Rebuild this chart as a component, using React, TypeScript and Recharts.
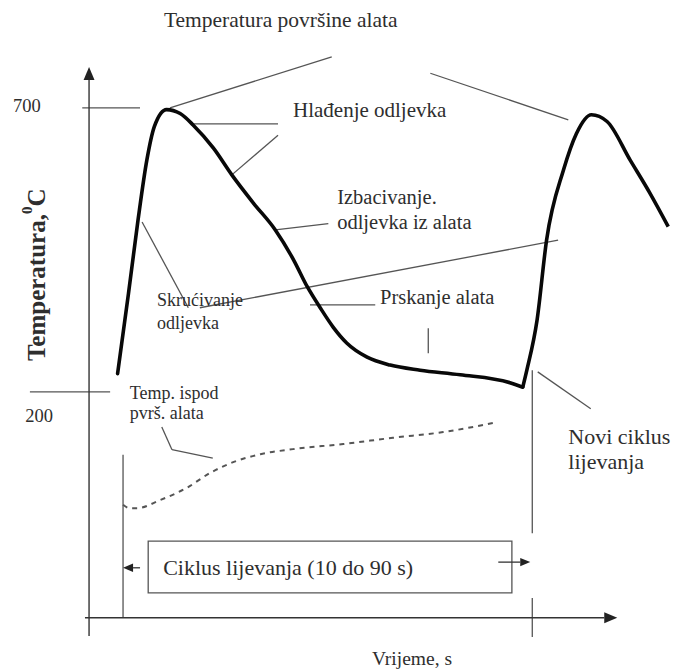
import { ComposedChart, Line, ReferenceArea, ReferenceDot, ReferenceLine, XAxis, YAxis } from "recharts";

// time axis: 0 = start of the casting cycle, 60 = start of the next one (schematic units)
const surfaceTime = [-0.7, 0.9, 2.3, 3.6, 4.7, 6.5, 8.5, 10.4, 13.4, 16.1, 19.3, 22.5, 25.2, 27.2, 29.1, 31.0, 33.0, 36.0, 39.4, 43.8, 49.7, 57.0, 58.9];
const surfaceTemp = [232, 373, 502, 608, 667, 697, 690, 670, 629, 582, 532, 485, 432, 385, 348, 314, 286, 261, 247, 238, 230, 216, 208];

const nextCycleTime = [58.9, 59.5, 61.0, 62.4, 64.9, 66.8, 69.0, 71.3, 74.7, 77.6, 80.3];
const nextCycleTemp = [208, 238, 326, 467, 591, 655, 688, 676, 608, 550, 491];

const subsurfaceTime = [0.1, 1.1, 2.2, 5.5, 9.5, 12.9, 16.3, 20.3, 25.1, 32.5, 39.8, 47.2, 54.5];
const subsurfaceTemp = [1, -5, -5, 9, 31, 57, 76, 90, 99, 108, 119, 129, 145];

const tempTicks = [200, 700];

// thin leader lines, as polylines in (time, temperature)
const leaders: number[][][] = [
  [[7.0, 700], [30.8, 790]],
  [[45.3, 761], [65.6, 679]],
  [[10.4, 672], [22.9, 672]],
  [[16.1, 582], [22.9, 652]],
  [[22.5, 485], [30.3, 496]],
  [[2.9, 499], [9.7, 348]],
  [[11.4, 348], [64.1, 467]],
  [[27.6, 353], [37.2, 353]],
  [[45.0, 312], [45.0, 268]],
  [[61.1, 235], [68.9, 170]],
  [[60.3, 238], [60.3, -49]],
  [[60.3, -163], [60.3, -232]],
  [[0.1, 89], [0.1, -198]],
  [[5.8, 138], [7.3, 98], [13.3, 83]],
  [[-5.9, tempTicks[1]], [2.6, tempTicks[1]]],
  [[-13.6, tempTicks[0]], [-1.8, tempTicks[0]]],
];

const arrows: number[][][] = [
  [[-4.9, -230], [-4.9, 772]],
  [[-5.5, -198], [72.8, -198]],
  [[2.6, -110], [0.1, -110]],
  [[55.3, -100], [60.0, -100]],
];

const cycleBox = { t1: 3.8, t2: 57.3, T1: -154, T2: -63 };

type Note = { t: number; T: number; lines: string[]; size: number; anchor?: string; gap?: number };
const notes: Note[] = [
  { t: 23.3, T: 855, lines: ["Temperatura površine alata"], size: 21.5, anchor: "middle" },
  { t: -16.1, T: 703, lines: [String(tempTicks[1])], size: 18.5 },
  { t: -14.3, T: 157, lines: [String(tempTicks[0])], size: 18.5 },
  { t: 25.1, T: 696, lines: ["Hlađenje odljevka"], size: 21 },
  { t: 31.6, T: 543, lines: ["Izbacivanje.", "odljevka iz alata"], size: 20.5, gap: 25 },
  { t: 5.1, T: 362, lines: ["Skrućivanje", "odljevka"], size: 18, gap: 23 },
  { t: 37.9, T: 367, lines: ["Prskanje alata"], size: 20.5 },
  { t: 1.1, T: 198, lines: ["Temp. ispod", "pvrš. alata"], size: 18, gap: 20 },
  { t: 65.6, T: 122, lines: ["Novi ciklus", "lijevanja"], size: 22, gap: 25 },
  { t: 6.0, T: -109, lines: ["Ciklus lijevanja (10 do 90 s)"], size: 22 },
  { t: 42.6, T: -269, lines: ["Vrijeme, s"], size: 19.5, anchor: "middle" },
];

const INK = "#2e2e2e";
const LEAD = "#555";
const FONT = "'Liberation Serif', 'Times New Roman', serif";

const toRows = (ts: number[], vs: number[]) => ts.map((t, i) => ({ t, T: vs[i] }));

const noteShape = (n: Note) => (p: any) => (
  <text x={p.cx} y={p.cy} fontFamily={FONT} fontSize={n.size} fill={INK} textAnchor={n.anchor ?? "start"} dominantBaseline="central">
    {n.lines.map((l, i) => (
      <tspan key={i} x={p.cx} dy={i === 0 ? 0 : n.gap}>
        {l}
      </tspan>
    ))}
  </text>
);

const yLabelShape = (p: any) => (
  <text
    x={p.cx}
    y={p.cy}
    transform={`rotate(-90 ${p.cx} ${p.cy})`}
    fontFamily={FONT}
    fontSize={25}
    fontWeight="bold"
    fill={INK}
    textAnchor="middle"
    dominantBaseline="central"
  >
    Temperatura,<tspan fontSize={15} dy={-9}>0</tspan>
    <tspan dy={9}>C</tspan>
  </text>
);

const arrowShape = (size: number, width: number) => (p: any) => {
  const { x1, y1, x2, y2 } = p;
  const a = Math.atan2(y2 - y1, x2 - x1);
  const w = size * 0.42;
  const bx = x2 - size * Math.cos(a);
  const by = y2 - size * Math.sin(a);
  const pts = [
    [x2, y2],
    [bx + w * Math.sin(a), by - w * Math.cos(a)],
    [bx - w * Math.sin(a), by + w * Math.cos(a)],
  ]
    .map((q) => q.join(","))
    .join(" ");
  return (
    <g>
      <line x1={x1} y1={y1} x2={bx} y2={by} stroke="#333" strokeWidth={width} />
      <polygon points={pts} fill="#222" />
    </g>
  );
};

export default function App() {
  return (
    <div style={{ position: "absolute", left: 0, top: 0, width: 673, height: 670, background: "#fff" }}>
      <ComposedChart width={673} height={670} margin={{ top: 0, right: 0, bottom: 0, left: 0 }}>
        <XAxis type="number" dataKey="t" domain={[-18, 81]} allowDataOverflow hide />
        <YAxis type="number" dataKey="T" domain={[-290, 890]} allowDataOverflow hide />

        {leaders.flatMap((pl, k) =>
          pl.slice(1).map((q, i) => (
            <ReferenceLine
              key={`l${k}-${i}`}
              segment={[
                { x: pl[i][0], y: pl[i][1] },
                { x: q[0], y: q[1] },
              ]}
              stroke={LEAD}
              strokeWidth={1.3}
              ifOverflow="visible"
            />
          ))
        )}

        {arrows.map((s, k) => (
          <ReferenceLine
            key={`a${k}`}
            segment={[
              { x: s[0][0], y: s[0][1] },
              { x: s[1][0], y: s[1][1] },
            ]}
            ifOverflow="visible"
            shape={k < 2 ? arrowShape(13, 1.4) : arrowShape(10, 1.3)}
          />
        ))}

        <ReferenceArea
          x1={cycleBox.t1}
          x2={cycleBox.t2}
          y1={cycleBox.T1}
          y2={cycleBox.T2}
          fill="none"
          stroke={LEAD}
          strokeWidth={1.3}
          ifOverflow="visible"
        />

        <Line
          data={toRows(subsurfaceTime, subsurfaceTemp)}
          dataKey="T"
          type="monotone"
          stroke="#555"
          strokeWidth={2}
          strokeDasharray="5 5"
          dot={false}
          activeDot={false}
          isAnimationActive={false}
        />
        <Line
          data={toRows(surfaceTime, surfaceTemp)}
          dataKey="T"
          type="monotone"
          stroke="#080808"
          strokeWidth={3.6}
          strokeLinecap="round"
          dot={false}
          activeDot={false}
          isAnimationActive={false}
        />
        <Line
          data={toRows(nextCycleTime, nextCycleTemp)}
          dataKey="T"
          type="monotone"
          stroke="#080808"
          strokeWidth={3.6}
          dot={false}
          activeDot={false}
          isAnimationActive={false}
        />

        {notes.map((n, k) => (
          <ReferenceDot key={`n${k}`} x={n.t} y={n.T} r={0} ifOverflow="visible" shape={noteShape(n)} />
        ))}
        <ReferenceDot x={-12.7} y={406} r={0} ifOverflow="visible" shape={yLabelShape} />
      </ComposedChart>
    </div>
  );
}
